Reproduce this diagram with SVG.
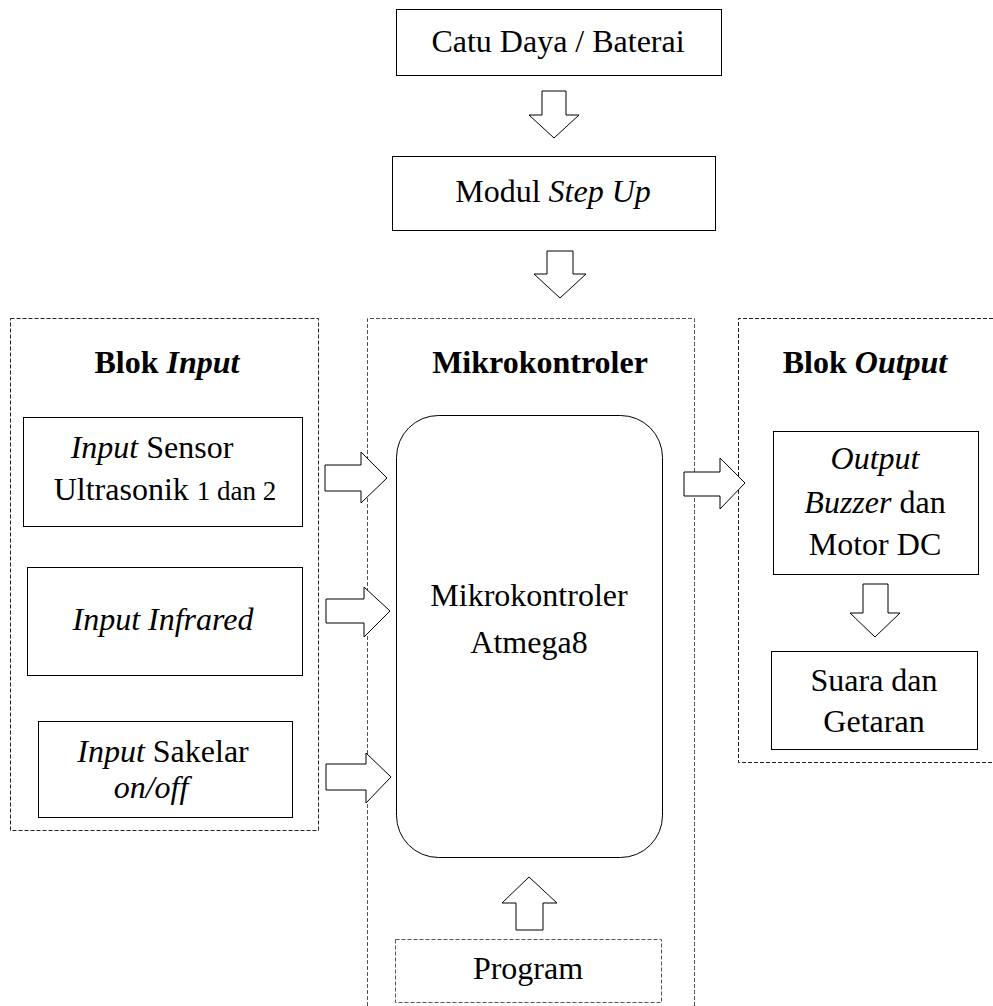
<svg xmlns="http://www.w3.org/2000/svg" width="993" height="1006" viewBox="0 0 993 1006">
<style>
text{font-size:32px;fill:#000;text-anchor:middle}
.b{font-weight:bold}
.i{font-style:italic}
.box{fill:#fff;stroke:#000;stroke-width:1}
.dash{fill:none;stroke:#222;stroke-width:1;stroke-dasharray:4 2}
.dashg{fill:none;stroke:#555;stroke-width:1;stroke-dasharray:4 2}
.arr{fill:#fff;stroke:#000;stroke-width:1;stroke-linejoin:miter}
</style>
<rect width="993" height="1006" fill="#fff"/>
<g font-family="Liberation Serif, Times New Roman, serif">
<g id="groups">
<rect class="dash" x="10.5" y="318.5" width="308" height="512"/>
<path class="dashg" d="M367.5,1006 V318.5 H694.5 V1006"/>
<path class="dash" d="M993,318.5 H738.5 V762.5 H993"/>
<text class="b" x="167" y="373">Blok <tspan class="i">Input</tspan></text>
<text class="b" x="540" y="373">Mikrokontroler</text>
<text class="b" x="865" y="373">Blok <tspan class="i">Output</tspan></text>
</g>
<g id="catu">
<rect class="box" x="396.5" y="9.5" width="325" height="66"/>
<text x="558" y="52">Catu Daya / Baterai</text>
</g>
<g id="stepup">
<rect class="box" x="392.5" y="156.5" width="323" height="74"/>
<text x="553" y="202">Modul <tspan class="i">Step Up</tspan></text>
</g>
<g id="sensor">
<rect class="box" x="23.5" y="417.5" width="279" height="109"/>
<text x="152" y="458"><tspan class="i">Input</tspan> Sensor</text>
<text x="165" y="500">Ultrasonik <tspan font-size="27">1 dan 2</tspan></text>
</g>
<g id="infrared">
<rect class="box" x="27.5" y="567.5" width="275" height="108"/>
<text class="i" x="163" y="630">Input Infrared</text>
</g>
<g id="sakelar">
<rect class="box" x="38.5" y="721.5" width="254" height="96"/>
<text x="163" y="762"><tspan class="i">Input</tspan> Sakelar</text>
<text class="i" x="151" y="798">on/off</text>
</g>
<g id="mcu">
<rect class="box" x="396.5" y="415.5" width="266" height="442" rx="42" ry="42"/>
<text x="529" y="606">Mikrokontroler</text>
<text x="529" y="653">Atmega8</text>
</g>
<g id="program">
<rect class="dashg" x="395.5" y="939.5" width="266" height="63"/>
<text x="528" y="979">Program</text>
</g>
<g id="buzzer">
<rect class="box" x="773.5" y="431.5" width="205" height="143"/>
<text class="i" x="875" y="469">Output</text>
<text x="875" y="513"><tspan class="i">Buzzer</tspan> dan</text>
<text x="875" y="555">Motor DC</text>
</g>
<g id="suara">
<rect class="box" x="771.5" y="651.5" width="206" height="98"/>
<text x="874" y="691">Suara dan</text>
<text x="874" y="732">Getaran</text>
</g>
</g>
<g id="connectors">
<polygon class="arr" points="542,91 566,91 566,115 579,115 554,138 529,115 542,115"/>
<polygon class="arr" points="547,251 573,251 573,274 586,274 560,298 534,274 547,274"/>
<polygon class="arr" points="325,465 361,465 361,452 387,478 361,503 361,491 325,491"/>
<polygon class="arr" points="326,599 364,599 364,587 390,611 364,637 364,623 326,623"/>
<polygon class="arr" points="326,764 366,764 366,753 391,777 366,803 366,790 326,790"/>
<polygon class="arr" points="684,472 720,472 720,458 745,483 720,509 720,496 684,496"/>
<polygon class="arr" points="863,584 888,584 888,613 900,613 875,637 850,613 863,613"/>
<polygon class="arr" points="516,930 543,930 543,903 557,903 529,877 502,903 516,903"/>
</g>
</svg>
